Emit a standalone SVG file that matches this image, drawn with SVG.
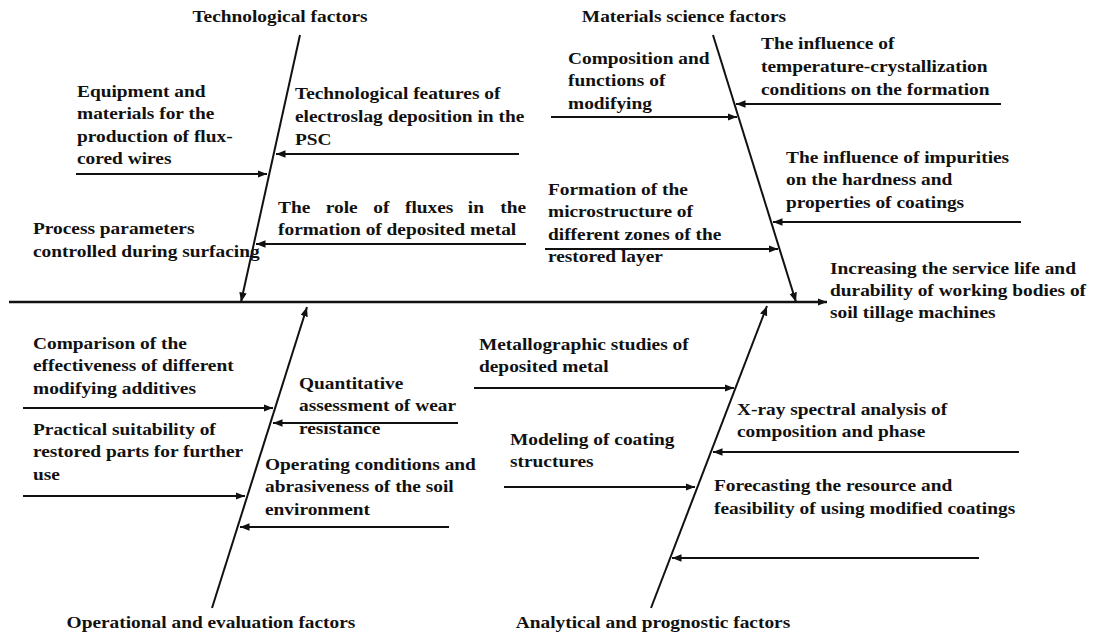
<svg xmlns="http://www.w3.org/2000/svg" width="1094" height="635" viewBox="0 0 1094 635">
<style>
.t{font-family:"Liberation Serif","Times New Roman",serif;font-weight:bold;font-size:17.6px;fill:#111}
.ln{stroke:#111;stroke-width:2;fill:none;marker-end:url(#ah)}
.main{stroke:#111;stroke-width:2.6;fill:none;marker-end:url(#ah)}
</style>
<defs>
<marker id="ah" markerUnits="userSpaceOnUse" markerWidth="10" markerHeight="8" refX="9.5" refY="3.75" orient="auto">
<path d="M0,0 L9.5,3.75 L0,7.5 z" fill="#111"/>
</marker>
</defs>
<rect width="1094" height="635" fill="#fff"/>
<g id="connectors">
<line class="main" x1="9" y1="302" x2="827" y2="302"/>
<line class="ln" x1="300" y1="35" x2="241" y2="302"/>
<line class="ln" x1="713" y1="35" x2="796" y2="302"/>
<line class="ln" x1="212" y1="608" x2="307" y2="307"/>
<line class="ln" x1="651" y1="608" x2="767" y2="306"/>
<line class="ln" x1="76" y1="174" x2="267" y2="174"/>
<line class="ln" x1="519" y1="154" x2="276" y2="154"/>
<line class="ln" x1="526" y1="244" x2="256" y2="244"/>
<line class="ln" x1="551" y1="117" x2="737" y2="117"/>
<line class="ln" x1="1001" y1="104" x2="736" y2="104"/>
<line class="ln" x1="1021" y1="222" x2="773" y2="222"/>
<line class="ln" x1="545" y1="249" x2="778" y2="249"/>
<line class="ln" x1="23" y1="408" x2="273" y2="408"/>
<line class="ln" x1="458" y1="423" x2="273" y2="423"/>
<line class="ln" x1="23" y1="496" x2="245" y2="496"/>
<line class="ln" x1="449" y1="527" x2="240" y2="527"/>
<line class="ln" x1="474" y1="388" x2="734" y2="388"/>
<line class="ln" x1="1019" y1="452" x2="713" y2="452"/>
<line class="ln" x1="504" y1="487" x2="695" y2="487"/>
<line class="ln" x1="979" y1="558" x2="672" y2="558"/>
</g>
<g id="title-tech"><text class="t" text-anchor="middle" transform="translate(280,0) scale(1.1,1)"><tspan x="0" y="22">Technological factors</tspan></text></g>
<g id="title-mat"><text class="t" text-anchor="middle" transform="translate(684,0) scale(1.1,1)"><tspan x="0" y="22">Materials science factors</tspan></text></g>
<g id="title-oper"><text class="t" text-anchor="middle" transform="translate(211,0) scale(1.1,1)"><tspan x="0" y="628">Operational and evaluation factors</tspan></text></g>
<g id="title-anal"><text class="t" text-anchor="middle" transform="translate(653,0) scale(1.1,1)"><tspan x="0" y="628">Analytical and prognostic factors</tspan></text></g>
<g id="effect"><text class="t" transform="translate(830,0) scale(1.1,1)"><tspan x="0" y="274">Increasing the service life and</tspan><tspan x="0" y="296">durability of working bodies of</tspan><tspan x="0" y="318">soil tillage machines</tspan></text></g>
<g id="n-equipment"><text class="t" transform="translate(77,0) scale(1.1,1)"><tspan x="0" y="97">Equipment and</tspan><tspan x="0" y="119.5">materials for the</tspan><tspan x="0" y="142">production of flux-</tspan><tspan x="0" y="164.5">cored wires</tspan></text></g>
<g id="n-techfeat"><text class="t" transform="translate(295,0) scale(1.1,1)"><tspan x="0" y="99">Technological features of</tspan><tspan x="0" y="122">electroslag deposition in the</tspan><tspan x="0" y="145">PSC</tspan></text></g>
<g id="n-fluxes"><text class="t" transform="translate(278,0) scale(1.1,1)"><tspan x="0" y="213">The</tspan><tspan x="43.4" y="213">role</tspan><tspan x="86.7" y="213">of</tspan><tspan x="115.4" y="213">fluxes</tspan><tspan x="172.5" y="213">in</tspan><tspan x="202" y="213">the</tspan><tspan x="0" y="235.5">formation of deposited metal</tspan></text></g>
<g id="n-process"><text class="t" transform="translate(33,0) scale(1.1,1)"><tspan x="0" y="234">Process parameters</tspan><tspan x="0" y="257">controlled during surfacing</tspan></text></g>
<g id="n-composition"><text class="t" transform="translate(568,0) scale(1.1,1)"><tspan x="0" y="64">Composition and</tspan><tspan x="0" y="86.5">functions of</tspan><tspan x="0" y="109">modifying</tspan></text></g>
<g id="n-temperature"><text class="t" transform="translate(761,0) scale(1.1,1)"><tspan x="0" y="49">The influence of</tspan><tspan x="0" y="72">temperature-crystallization</tspan><tspan x="0" y="95">conditions on the formation</tspan></text></g>
<g id="n-impurities"><text class="t" transform="translate(786,0) scale(1.1,1)"><tspan x="0" y="163">The influence of impurities</tspan><tspan x="0" y="185.5">on the hardness and</tspan><tspan x="0" y="208">properties of coatings</tspan></text></g>
<g id="n-formation"><text class="t" transform="translate(548,0) scale(1.1,1)"><tspan x="0" y="195">Formation of the</tspan><tspan x="0" y="217.5">microstructure of</tspan><tspan x="0" y="240">different zones of the</tspan><tspan x="0" y="262.5">restored layer</tspan></text></g>
<g id="n-comparison"><text class="t" transform="translate(33,0) scale(1.1,1)"><tspan x="0" y="349">Comparison of the</tspan><tspan x="0" y="371.5">effectiveness of different</tspan><tspan x="0" y="394">modifying additives</tspan></text></g>
<g id="n-quantitative"><text class="t" transform="translate(299,0) scale(1.1,1)"><tspan x="0" y="389">Quantitative</tspan><tspan x="0" y="411.5">assessment of wear</tspan><tspan x="0" y="434">resistance</tspan></text></g>
<g id="n-practical"><text class="t" transform="translate(33,0) scale(1.1,1)"><tspan x="0" y="435">Practical suitability of</tspan><tspan x="0" y="457.5">restored parts for further</tspan><tspan x="0" y="480">use</tspan></text></g>
<g id="n-operating"><text class="t" transform="translate(265,0) scale(1.1,1)"><tspan x="0" y="470">Operating conditions and</tspan><tspan x="0" y="492.5">abrasiveness of the soil</tspan><tspan x="0" y="515">environment</tspan></text></g>
<g id="n-metallographic"><text class="t" transform="translate(479,0) scale(1.1,1)"><tspan x="0" y="350">Metallographic studies of</tspan><tspan x="0" y="372.5">deposited metal</tspan></text></g>
<g id="n-xray"><text class="t" transform="translate(737,0) scale(1.1,1)"><tspan x="0" y="415">X-ray spectral analysis of</tspan><tspan x="0" y="437.5">composition and phase</tspan></text></g>
<g id="n-modeling"><text class="t" transform="translate(510,0) scale(1.1,1)"><tspan x="0" y="445">Modeling of coating</tspan><tspan x="0" y="467.5">structures</tspan></text></g>
<g id="n-forecasting"><text class="t" transform="translate(714,0) scale(1.1,1)"><tspan x="0" y="491.5">Forecasting the resource and</tspan><tspan x="0" y="514">feasibility of using modified coatings</tspan></text></g>
</svg>
